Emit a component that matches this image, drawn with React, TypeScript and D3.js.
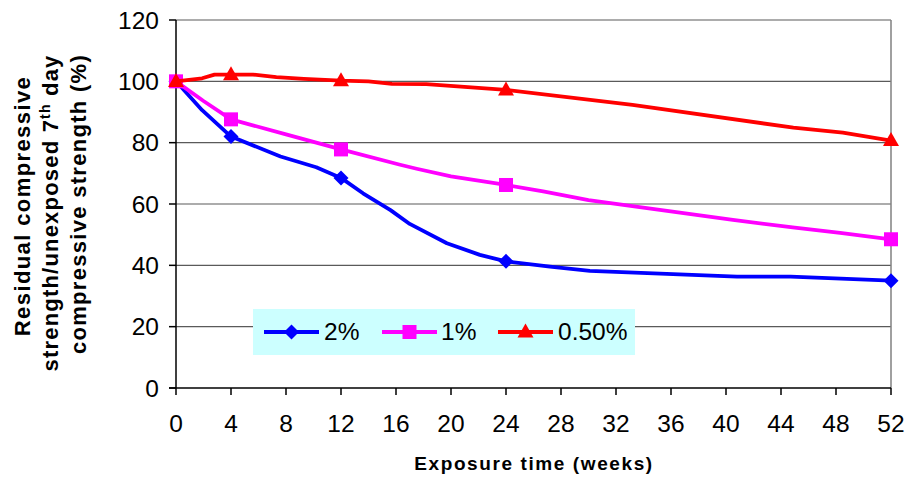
import React from "react";
import * as d3 from "d3";

const xTicks = [0, 4, 8, 12, 16, 20, 24, 28, 32, 36, 40, 44, 48, 52];
const yTicks = [0, 20, 40, 60, 80, 100, 120];

const seriesNames = ["2%", "1%", "0.50%"];
const seriesColors = ["#0000ff", "#ff00ff", "#ff0000"];
const markerTypes = ["diamond", "square", "triangle"];

// line vertices (weeks, %)
const weeks2 = [0, 1.9, 4, 7.6, 10.2, 12, 13.6, 15.6, 17, 19.7, 22.1, 24, 27.2, 30.1, 38, 40.8, 44.7, 52];
const vals2 = [100, 90.6, 82, 75.5, 72, 68.5, 63.5, 58, 53.5, 47.2, 43.4, 41.3, 39.6, 38.2, 36.8, 36.3, 36.3, 35];

const weeks1 = [0, 2, 4, 8, 12, 16.3, 17.5, 20, 24, 26.7, 30, 40.5, 45, 48.3, 52];
const vals1 = [100, 93.6, 87.6, 82.7, 77.8, 72.8, 71.5, 69, 66.2, 64.1, 61.3, 54.8, 52.3, 50.6, 48.5];

const weeks05 = [0, 1.9, 2.8, 5.6, 7.3, 9.3, 12, 14, 15.7, 18.2, 24, 33.2, 44.9, 48.5, 52];
const vals05 = [100, 101, 102.2, 102.2, 101.4, 100.8, 100.2, 100, 99.2, 99.1, 97.2, 92.3, 84.9, 83.3, 80.7];

// measured points with markers
const markerWeeks = [0, 4, 12, 24, 52];
const markerVals2 = [100, 82, 68.5, 41.3, 35];
const markerVals1 = [100, 87.6, 77.8, 66.2, 48.5];
const markerVals05 = [100, 102.2, 100.2, 97.2, 80.7];

const lineWeeks = [weeks2, weeks1, weeks05];
const lineVals = [vals2, vals1, vals05];
const markerVals = [markerVals2, markerVals1, markerVals05];

const FONT = "'Liberation Sans', Arial, Helvetica, sans-serif";

const left = 176, right = 891, top = 20, bottom = 388;

function Marker({ type, cx, cy, color }: { type: string; cx: number; cy: number; color: string }) {
  if (type === "diamond") {
    const r = 7.5;
    return <path d={`M${cx},${cy - r}L${cx + r},${cy}L${cx},${cy + r}L${cx - r},${cy}Z`} fill={color} />;
  }
  if (type === "square") {
    const s = 7;
    return <rect x={cx - s} y={cy - s} width={2 * s} height={2 * s} fill={color} />;
  }
  const hw = 8, h = 14;
  return <path d={`M${cx},${cy - h * 0.6}L${cx + hw},${cy + h * 0.4}L${cx - hw},${cy + h * 0.4}Z`} fill={color} />;
}

export default function App() {
  const x = d3.scaleLinear().domain([0, 52]).range([left, right]);
  const y = d3.scaleLinear().domain([0, 120]).range([bottom, top]);
  const line = d3
    .line<[number, number]>()
    .x((d) => x(d[0]))
    .y((d) => y(d[1]));

  const legendItems = [
    { lx: 264, tx: 324 },
    { lx: 382, tx: 441 },
    { lx: 498, tx: 558 },
  ];

  return (
    <svg
      width={907}
      height={478}
      style={{ position: "absolute", left: 0, top: 0, background: "#fff" }}
      fontFamily={FONT}
    >
      <rect x={0} y={0} width={907} height={478} fill="#fff" />
      {/* gridlines */}
      {yTicks.filter((t) => t > 0).map((t) => (
        <line key={t} x1={left} x2={right} y1={y(t)} y2={y(t)} stroke="#5a5a5a" strokeWidth={1.2} />
      ))}
      {/* right border */}
      <line x1={right} x2={right} y1={top} y2={bottom} stroke="#808080" strokeWidth={1.5} />
      {/* axes */}
      <line x1={left} x2={left} y1={top} y2={bottom} stroke="#000" strokeWidth={1.5} />
      <line x1={left - 7} x2={right} y1={bottom} y2={bottom} stroke="#000" strokeWidth={1.5} />
      {yTicks.map((t) => (
        <g key={t}>
          <line x1={left - 7} x2={left} y1={y(t)} y2={y(t)} stroke="#000" strokeWidth={1.5} />
          <text x={159} y={y(t) + 8.8} textAnchor="end" fontSize={24.5} fill="#000">
            {t}
          </text>
        </g>
      ))}
      {xTicks.map((t) => (
        <g key={t}>
          <line x1={x(t)} x2={x(t)} y1={bottom} y2={bottom + 7} stroke="#000" strokeWidth={1.5} />
          <text x={x(t)} y={432} textAnchor="middle" fontSize={24.5} fill="#000">
            {t}
          </text>
        </g>
      ))}
      {/* legend box */}
      <rect x={253} y={309} width={382} height={46} fill="#ccffff" />
      {/* series */}
      {seriesNames.map((name, i) => {
        const pts = lineWeeks[i].map((w, j) => [w, lineVals[i][j]] as [number, number]);
        return (
          <g key={name}>
            <path d={line(pts) || ""} fill="none" stroke={seriesColors[i]} strokeWidth={3.8} strokeLinejoin="round" />
            {markerWeeks.map((w, j) => (
              <Marker key={j} type={markerTypes[i]} cx={x(w)} cy={y(markerVals[i][j])} color={seriesColors[i]} />
            ))}
          </g>
        );
      })}
      {/* legend items */}
      {seriesNames.map((name, i) => {
        const it = legendItems[i];
        return (
          <g key={name}>
            <line x1={it.lx} x2={it.lx + 55} y1={332} y2={332} stroke={seriesColors[i]} strokeWidth={3.8} />
            <Marker type={markerTypes[i]} cx={it.lx + 27.5} cy={332} color={seriesColors[i]} />
            <text x={it.tx} y={340} fontSize={24.5} fill="#000">
              {name}
            </text>
          </g>
        );
      })}
      {/* x title */}
      <text x={534} y={470} textAnchor="middle" fontSize={19} fontWeight="bold" letterSpacing={1.6} fill="#000">
        Exposure time (weeks)
      </text>
      {/* y title */}
      <g fontWeight="bold" fontSize={22} fill="#000">
        <text transform="translate(30,206) rotate(-90)" textAnchor="middle" letterSpacing={1.4}>
          Residual compressive
        </text>
        <text transform="translate(58,213) rotate(-90)" textAnchor="middle" letterSpacing={1.2}>
          strength/unexposed 7<tspan fontSize={14} dy={-8}>th</tspan>
          <tspan dy={8}> day</tspan>
        </text>
        <text transform="translate(86,204) rotate(-90)" textAnchor="middle" letterSpacing={1.3}>
          compressive strength (%)
        </text>
      </g>
    </svg>
  );
}
